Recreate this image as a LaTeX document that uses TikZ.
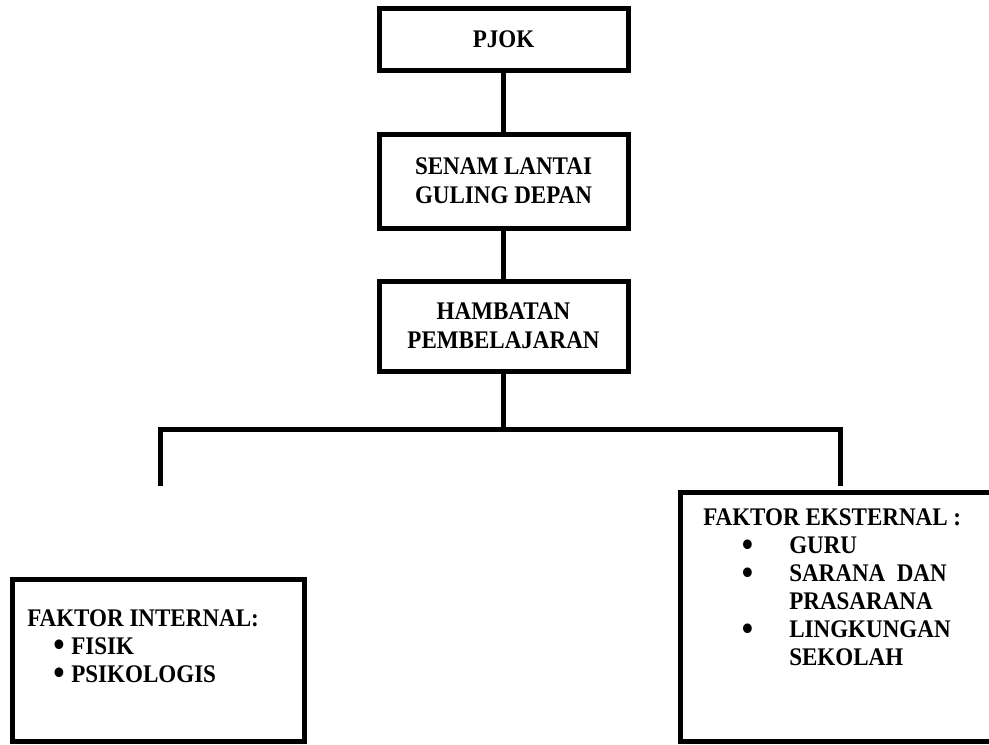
\documentclass[tikz,border=0pt]{standalone}
\usepackage{fontspec}
\setmainfont{Liberation Serif}[FakeStretch=0.91]
\usetikzlibrary{positioning}
\tikzset{
    block/.style={
           rectangle,
           draw=black, line width=3.75pt,
           minimum width=186.75pt,
           inner sep=2pt,
           align=center,
           font=\fontsize{19}{22}\selectfont\bfseries,
           },
    listbox/.style={
           rectangle,
           draw=black, line width=3.75pt,
           inner sep=0pt,
           },
    listtext/.style={
           inner sep=0pt,
           align=left,
           font=\fontsize{19}{21}\selectfont\bfseries,
           },
    conn/.style={
           line width=3.75pt,
           },
}
\newcommand{\bigbul}{\smash{\raisebox{-0.1em}{\scalebox{1.4}{\textbullet}}}}
\newcommand{\intitem}[1]{\hspace*{19.5pt}\makebox[13.5pt][l]{\bigbul}#1}
\newcommand{\extitem}[1]{\hspace*{29pt}\makebox[35.5pt][l]{\bigbul}#1}
\newcommand{\extcont}[1]{\hspace*{64.5pt}#1}

\begin{document}
\begin{tikzpicture}[x=0.75pt,y=-0.75pt]
	\useasboundingbox (0,0) rectangle (989,744);
	\clip (0,0) rectangle (989,744);
	\node[block, minimum height=46.5pt] (pjok) at (503.5,39) {PJOK};
	\node[block, minimum height=70.5pt, below=44.25pt of pjok] (senam) {
		SENAM LANTAI\\
		GULING DEPAN
	};
	\node[block, minimum height=67.5pt, below=36pt of senam] (hambatan) {
		HAMBATAN\\
		PEMBELAJARAN
	};
	
	% lower boxes
	\node[listbox, anchor=north west, minimum width=219pt, minimum height=121.5pt] (intbox) at (10,577) {};
	\node[listtext, below right=24pt and 12.75pt of intbox.north west] (inttext) {
		FAKTOR INTERNAL:\\
		\intitem{FISIK}\\
		\intitem{PSIKOLOGIS}
	};
	\node[listbox, anchor=north west, minimum width=234.4pt, minimum height=186.75pt] (extbox) at (678,490) {};
	\node[listtext, below right=14pt and 18.75pt of extbox.north west] (exttext) {
		FAKTOR EKSTERNAL :\\
		\extitem{GURU}\\
		\extitem{SARANA\ \ DAN}\\
		\extcont{PRASARANA}\\
		\extitem{LINGKUNGAN}\\
		\extcont{SEKOLAH}
	};
	
	\coordinate (barl) at (160,429);
	\coordinate (barr) at (840,429);
	\coordinate (intend) at (160,486);
	\coordinate (extend) at (840,486);
	
	\draw[conn] (pjok) -- (senam);
	\draw[conn] (senam) -- (hambatan);
	\draw[conn] (hambatan.south) -- (hambatan.south |- barl);
	\draw[conn] (intend) -- (barl) -- (barr) -- (extend);
\end{tikzpicture}
\end{document}
